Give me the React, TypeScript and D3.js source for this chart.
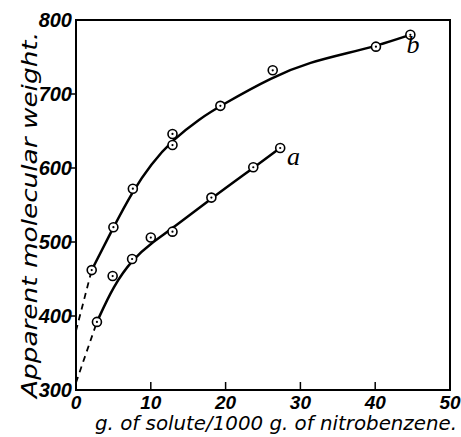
import React, { useEffect, useRef } from "react";
import * as d3 from "d3";

// measured points
const seriesB = [
  [2.1, 462], [5.0, 520], [7.6, 572], [12.9, 646], [12.9, 631],
  [19.3, 684], [26.3, 732], [40.1, 764], [44.7, 780],
];
const seriesA = [
  [2.8, 392], [4.9, 454], [7.5, 477], [10.0, 506], [12.9, 514],
  [18.1, 560], [23.7, 601], [27.3, 627],
];
// drawn curves
const curveB = [
  [2.1, 462], [5.0, 520], [7.6, 569], [10.0, 605], [12.9, 638],
  [16.6, 667], [19.3, 684], [26.4, 724], [31.3, 743], [36.6, 756],
  [40.2, 765], [44.7, 780],
];
const curveA = [
  [2.8, 392], [5.0, 441], [7.6, 477], [10.0, 498], [13.0, 519],
  [18.1, 559], [23.7, 600], [27.3, 627],
];
// dashed extrapolation to zero concentration
const dashB = [[0, 380], [2.1, 462]];
const dashA = [[0, 310], [2.8, 392]];

const xTicks = [0, 10, 20, 30, 40, 50];
const yTicks = [300, 400, 500, 600, 700, 800];

export default function App() {
  const ref = useRef<SVGSVGElement>(null);

  useEffect(() => {
    if (!ref.current) return;
    const W = 461, H = 437;
    const margin = { top: 20, right: 11, bottom: 47, left: 76 };
    const width = W - margin.left - margin.right;
    const height = H - margin.top - margin.bottom;

    const root = d3.select(ref.current);
    root.selectAll("*").remove();
    root.attr("width", W).attr("height", H);

    const g = root.append("g").attr("transform", `translate(${margin.left},${margin.top})`);
    const x = d3.scaleLinear().domain([0, 50]).range([0, width]);
    const y = d3.scaleLinear().domain([300, 800]).range([height, 0]);

    const font = "'Liberation Sans', 'DejaVu Sans', sans-serif";
    const titleFont = "'DejaVu Sans', sans-serif";

    // frame
    g.append("rect")
      .attr("width", width).attr("height", height)
      .attr("fill", "none").attr("stroke", "#000").attr("stroke-width", 2);

    // x ticks (inward)
    g.selectAll(".xt").data(xTicks.slice(1, -1)).enter().append("line")
      .attr("x1", d => x(d)).attr("x2", d => x(d))
      .attr("y1", height).attr("y2", height - 8)
      .attr("stroke", "#000").attr("stroke-width", 1.5);
    g.selectAll(".xl").data(xTicks).enter().append("text")
      .attr("x", d => x(d)).attr("y", height + 19)
      .attr("text-anchor", "middle")
      .style("font", `italic bold 19px ${font}`)
      .text(d => d);

    // y ticks (outward)
    g.selectAll(".yt").data(yTicks.slice(1, -1)).enter().append("line")
      .attr("x1", -5).attr("x2", 0)
      .attr("y1", d => y(d)).attr("y2", d => y(d))
      .attr("stroke", "#000").attr("stroke-width", 1.5);
    g.selectAll(".yl").data(yTicks).enter().append("text")
      .attr("x", -4).attr("y", d => y(d) + 7)
      .attr("text-anchor", "end")
      .style("font", `italic bold 20px ${font}`)
      .text(d => d);

    const line = d3.line<number[]>()
      .x(d => x(d[0])).y(d => y(d[1]))
      .curve(d3.curveBasis);
    const straight = d3.line<number[]>().x(d => x(d[0])).y(d => y(d[1]));

    [curveB, curveA].forEach(c => {
      g.append("path").attr("d", line(c)!)
        .attr("fill", "none").attr("stroke", "#000").attr("stroke-width", 2.5);
    });
    [dashB, dashA].forEach(c => {
      g.append("path").attr("d", straight(c)!)
        .attr("fill", "none").attr("stroke", "#000").attr("stroke-width", 1.8)
        .attr("stroke-dasharray", "6,5");
    });

    [seriesB, seriesA].forEach(s => {
      const pts = g.selectAll(null).data(s).enter().append("g")
        .attr("transform", d => `translate(${x(d[0])},${y(d[1])})`);
      pts.append("circle").attr("r", 4.5)
        .attr("fill", "#fff").attr("stroke", "#000").attr("stroke-width", 1.6);
      pts.append("circle").attr("r", 1.1).attr("fill", "#000");
    });

    // curve labels
    g.append("text").attr("x", x(28.2)).attr("y", y(604))
      .style("font", `italic 26px 'Liberation Serif', serif`).text("a");
    g.append("text").attr("x", x(44.2)).attr("y", y(756))
      .style("font", `italic 26px 'Liberation Serif', serif`).text("b");

    // axis titles
    root.append("text")
      .attr("x", 95).attr("y", 430)
      .attr("textLength", 362).attr("lengthAdjust", "spacingAndGlyphs")
      .style("font", `oblique 20px ${titleFont}`)
      .text("g. of solute/1000 g. of nitrobenzene.");
    root.append("text")
      .attr("transform", `translate(37,398) rotate(-90)`)
      .attr("textLength", 366).attr("lengthAdjust", "spacingAndGlyphs")
      .style("font", `oblique 22px ${titleFont}`)
      .text("Apparent molecular weight.");
  }, []);

  return <svg ref={ref} style={{ position: "absolute", left: 0, top: 0 }} />;
}
